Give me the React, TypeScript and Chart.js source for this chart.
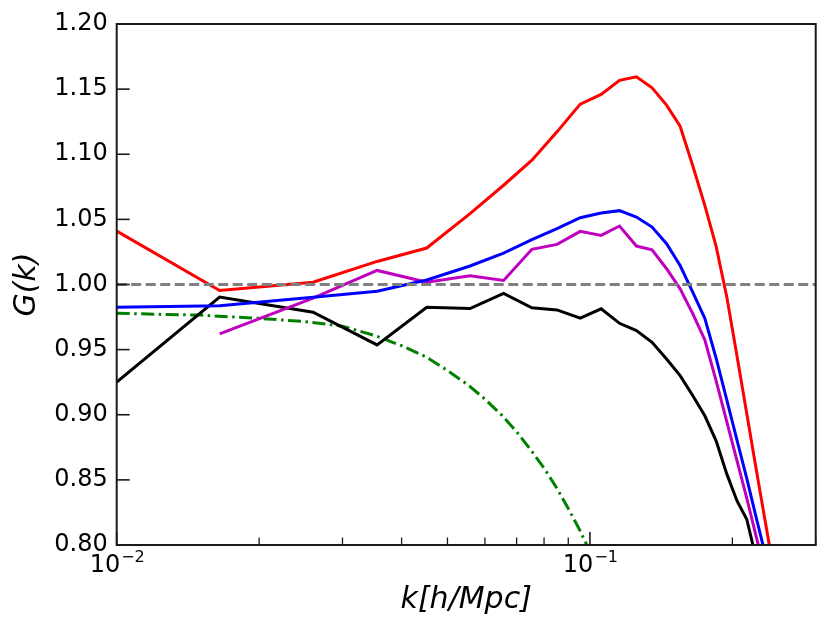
import { useEffect, useRef } from 'react';
import { Chart, registerables } from 'chart.js';

Chart.register(...registerables);

// k bins (h/Mpc)
const kBins = [
  0.01, 0.0165, 0.026, 0.0355, 0.0452, 0.0558, 0.0657, 0.0754, 0.0852, 0.0954,
  0.1056, 0.1155, 0.1254, 0.1353, 0.1452, 0.1551, 0.165, 0.1749, 0.1848, 0.1947,
  0.2046, 0.2145, 0.2244, 0.2343, 0.2442,
];

const redG = [
  1.041, 0.9954, 1.0018, 1.0177, 1.028, 1.0544, 1.0762, 1.0954, 1.1172, 1.1385,
  1.146, 1.1567, 1.1595, 1.151, 1.1377, 1.1215, 1.091, 1.0608, 1.0292, 0.9902,
  0.945, 0.901, 0.859, 0.8195, 0.782,
];

const blueG = [
  0.9826, 0.9837, 0.9903, 0.9949, 1.0035, 1.0142, 1.0241, 1.0344, 1.0429, 1.0513,
  1.0549, 1.0567, 1.0518, 1.0441, 1.0313, 1.0146, 0.994, 0.974, 0.9434, 0.9112,
  0.8804, 0.8512, 0.8216, 0.794,
];

const magentaG = [
  null, 0.9621, 0.9895, 1.0108, 1.0018, 1.0067, 1.0031, 1.027, 1.0308, 1.0408,
  1.0377, 1.0449, 1.0295, 1.0267, 1.0121, 0.9967, 0.9775, 0.9575, 0.926, 0.8946,
  0.8646, 0.836, 0.807, 0.78,
];

const blackG = [
  0.925, 0.9903, 0.9787, 0.9536, 0.9825, 0.9815, 0.9931, 0.9821, 0.9805, 0.9741,
  0.9813, 0.9702, 0.9646, 0.9556, 0.9428, 0.93, 0.9146, 0.8992, 0.88, 0.8544,
  0.8338, 0.8198, 0.79,
];

// smooth theory curve (green dash-dot)
const theoryK = [
  0.01, 0.0125, 0.015, 0.02, 0.025, 0.03, 0.035, 0.04, 0.045, 0.05,
  0.055, 0.06, 0.065, 0.07, 0.075, 0.08, 0.085, 0.09, 0.095, 0.1,
];
const theoryG = [
  0.978, 0.977, 0.9765, 0.974, 0.9715, 0.968, 0.961, 0.953, 0.9445, 0.934,
  0.9235, 0.912, 0.9, 0.887, 0.873, 0.859, 0.844, 0.828, 0.812, 0.795,
];

const refK = [0.01, 0.3];
const refG = [1.0, 1.0];

const yTickValues = [0.8, 0.85, 0.9, 0.95, 1.0, 1.05, 1.1, 1.15, 1.2];
const xMajorTicks = [0.01, 0.1];
const xMajorExponents = ['−2', '−1'];
const xMinorTicks = [0.02, 0.03, 0.04, 0.05, 0.06, 0.07, 0.08, 0.09, 0.2, 0.3];

const pts = (xs: number[], ys: (number | null)[]) =>
  ys.map((y, i) => ({ x: xs[i], y })).filter((p) => p.y !== null);

// inward ticks, 10^n labels and box frame, matplotlib style
const frame = {
  id: 'frame',
  afterDraw(chart: any) {
    const { ctx, chartArea: a, scales } = chart;
    const seg = (x1: number, y1: number, x2: number, y2: number) => {
      ctx.beginPath();
      ctx.moveTo(x1, y1);
      ctx.lineTo(x2, y2);
      ctx.stroke();
    };
    ctx.save();
    ctx.strokeStyle = '#1a1a1a';
    ctx.lineWidth = 1.6;
    yTickValues.forEach((v) => {
      const y = scales.y.getPixelForValue(v);
      seg(a.left, y, a.left + 13, y);
    });
    xMajorTicks.forEach((v) => {
      const x = scales.x.getPixelForValue(v);
      seg(x, a.bottom, x, a.bottom - 13);
    });
    ctx.lineWidth = 1.3;
    xMinorTicks.forEach((v) => {
      const x = scales.x.getPixelForValue(v);
      seg(x, a.bottom, x, a.bottom - 7.5);
    });
    ctx.lineWidth = 2;
    ctx.strokeRect(a.left, a.top, a.right - a.left, a.bottom - a.top);

    // major x labels as 10 with raised exponent
    ctx.fillStyle = '#000';
    ctx.textBaseline = 'alphabetic';
    ctx.textAlign = 'left';
    xMajorTicks.forEach((v, i) => {
      const x = scales.x.getPixelForValue(v);
      ctx.font = '24px "DejaVu Sans"';
      const w1 = ctx.measureText('10').width;
      ctx.font = '16px "DejaVu Sans"';
      const w2 = ctx.measureText(xMajorExponents[i]).width;
      const x0 = x - (w1 + w2) / 2;
      ctx.font = '24px "DejaVu Sans"';
      ctx.fillText('10', x0, a.bottom + 26.5);
      ctx.font = '16px "DejaVu Sans"';
      ctx.fillText(xMajorExponents[i], x0 + w1 + 1, a.bottom + 16.5);
    });
    ctx.restore();
  },
};

export default function App() {
  const canvasRef = useRef<HTMLCanvasElement | null>(null);
  const chartRef = useRef<Chart | null>(null);

  useEffect(() => {
    const ctx = canvasRef.current?.getContext('2d');
    if (!ctx) return;
    Chart.defaults.font.family = 'DejaVu Sans';
    Chart.defaults.color = '#000';

    chartRef.current = new Chart(ctx, {
      type: 'line',
      data: {
        datasets: [
          { data: pts(refK, refG), borderColor: '#808080', borderWidth: 2.8, borderDash: [10, 4.5] },
          { data: pts(kBins, redG), borderColor: '#ff0000' },
          { data: pts(kBins, blueG), borderColor: '#0000ff' },
          { data: pts(kBins, magentaG), borderColor: '#bf00bf' },
          { data: pts(kBins, blackG), borderColor: '#000000' },
          { data: pts(theoryK, theoryG), borderColor: '#008000', borderDash: [13, 4.5, 2.5, 4.5] },
        ],
      },
      options: {
        responsive: false,
        animation: false,
        events: [],
        layout: { padding: { top: 24, right: 14.3, left: 0, bottom: 0 } },
        elements: {
          point: { radius: 0 },
          line: { borderWidth: 3, tension: 0, fill: false },
        },
        datasets: { line: { clip: 0 } },
        plugins: { legend: { display: false }, tooltip: { enabled: false } },
        scales: {
          x: {
            type: 'logarithmic',
            min: 0.01,
            max: 0.3,
            grid: { display: false, drawTicks: false },
            border: { display: false },
            afterFit: (scale: any) => {
              scale.height = 88;
            },
            ticks: { display: false },
            title: {
              display: true,
              text: 'k[h/Mpc]',
              font: { size: 30, style: 'italic' },
              padding: { top: 0, bottom: 15 },
            },
          },
          y: {
            min: 0.8,
            max: 1.2,
            grid: { display: false, drawTicks: false },
            border: { display: false },
            afterFit: (scale: any) => {
              scale.width = 116.7;
            },
            ticks: {
              stepSize: 0.05,
              padding: 9,
              font: { size: 24 },
              callback: (v: any) => Number(v).toFixed(2),
            },
            title: {
              display: true,
              text: 'G(k)',
              font: { size: 30, style: 'italic' },
              padding: { top: 9, bottom: 0 },
            },
          },
        },
      },
      plugins: [frame],
    });
    return () => chartRef.current?.destroy();
  }, []);

  return (
    <div style={{ position: 'absolute', left: 0, top: 0, width: 830, height: 633, background: '#fff' }}>
      <canvas ref={canvasRef} width={830} height={633} />
    </div>
  );
}
